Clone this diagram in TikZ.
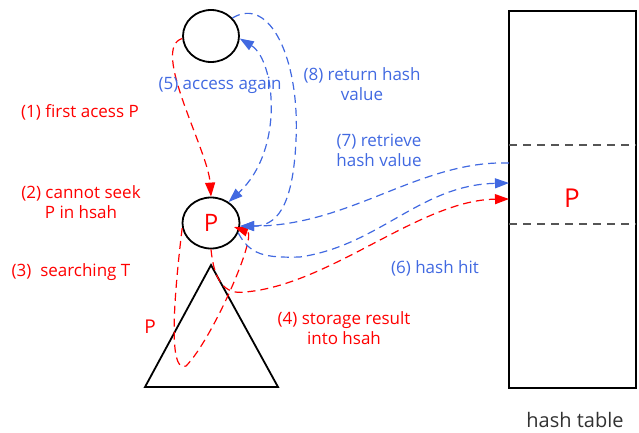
\documentclass[tikz,border=0pt]{standalone}
\usepackage{fontspec}
\setmainfont{Open Sans}
\usetikzlibrary{shapes.geometric,arrows.meta}
\definecolor{myblue}{RGB}{65,105,225}
\definecolor{myred}{RGB}{255,0,0}
\definecolor{mygray}{RGB}{85,85,85}
\definecolor{txtgray}{RGB}{50,50,50}
\begin{document}
\begin{tikzpicture}[x=1pt,y=-1pt,
  circ/.style={ellipse,draw=black,line width=1.8pt,inner sep=0pt,minimum width=56pt,minimum height=52pt},
  conn/.style={line width=1.2pt,dash pattern=on 8pt off 5pt},
  redarr/.style={conn,draw=myred,-{Triangle[length=14pt,width=10pt]}},
  bluearr/.style={conn,draw=myblue,-{Triangle[length=14pt,width=10pt]}},
  bluedbl/.style={conn,draw=myblue,{Triangle[length=14pt,width=10pt]}-{Triangle[length=14pt,width=10pt]}},
  lab/.style={font=\fontsize{17}{20}\selectfont,align=center,inner sep=0pt},
  divider/.style={draw=mygray,line width=1.3pt,dash pattern=on 8pt off 6pt}
]
\useasboundingbox (0,0) rectangle (639,432);
% nodes
\node[circ] (top) at (211,36) {};
\node[circ,minimum width=57pt,minimum height=51pt,text=myred,font=\fontsize{24}{24}\selectfont] (P) at (211,223) {P};
\coordinate (ta) at (211,265);
\coordinate (tl) at (145,387);
\coordinate (tr) at (278,387);
\draw[line width=1.8pt,line join=miter] (ta) -- (tl) -- (tr) -- cycle;
\node[draw=black,line width=1.8pt,minimum width=127pt,minimum height=377pt,inner sep=0pt] (table) at (572.5,199.5) {};
\draw[divider] (509,145) -- (636,145);
\draw[divider] (509,224) -- (636,224);
\node[text=myred,font=\fontsize{26}{26}\selectfont,inner sep=0pt] (tp) at (572,198) {P};
\node[text=txtgray,font=\fontsize{20}{20}\selectfont,inner sep=0pt] (tlab) at (575,420) {hash table};
\coordinate (h7) at (509,163);
\coordinate (h6) at (509,183);
\coordinate (h4) at (509,199);
\coordinate (r3) at (234,227);
% connectors
\draw[redarr] (top.185) .. controls (150,48) and (208,150) .. (P.north);
\draw[redarr] (P.190) .. controls (170,330) and (172,372) .. (186,366) .. controls (212,340) and (258,235) .. (r3);
\draw[redarr] (P.south) .. controls (214,280) and (224,295) .. (245,292) .. controls (330,285) and (420,200) .. (h4);
\draw[bluedbl] (top.-5) .. controls (275,60) and (285,150) .. (P.50);
\draw[bluearr] (top.40) .. controls (270,-5) and (300,60) .. (296,140) .. controls (293,210) and (275,226) .. (P.-6);
\draw[bluearr] (h7) .. controls (420,160) and (350,226) .. (P.-6);
\draw[bluearr] (P.-20) .. controls (250,255) and (265,258) .. (300,257) .. controls (380,245) and (420,185) .. (h6);
% labels
\node[lab,text=myred] (l1) at (80,112) {(1) first acess P};
\node[lab,text=myred] (l2) at (81,202) {(2) cannot seek\\P in hsah};
\node[lab,text=myred] (l3) at (71,272) {(3)\ \ searching T};
\node[lab,text=myred,font=\fontsize{19}{19}\selectfont] (lp) at (150,327) {P};
\node[lab,text=myred] (l4) at (344,328) {(4) storage result\\into hsah};
\node[lab,text=myblue] (l5) at (220,85) {(5) access again};
\node[lab,text=myblue] (l8) at (362,84) {(8) return hash\\value};
\node[lab,text=myblue] (l7) at (379,150) {(7) retrieve\\hash value};
\node[lab,text=myblue] (l6) at (435,268) {(6) hash hit};
\end{tikzpicture}
\end{document}
